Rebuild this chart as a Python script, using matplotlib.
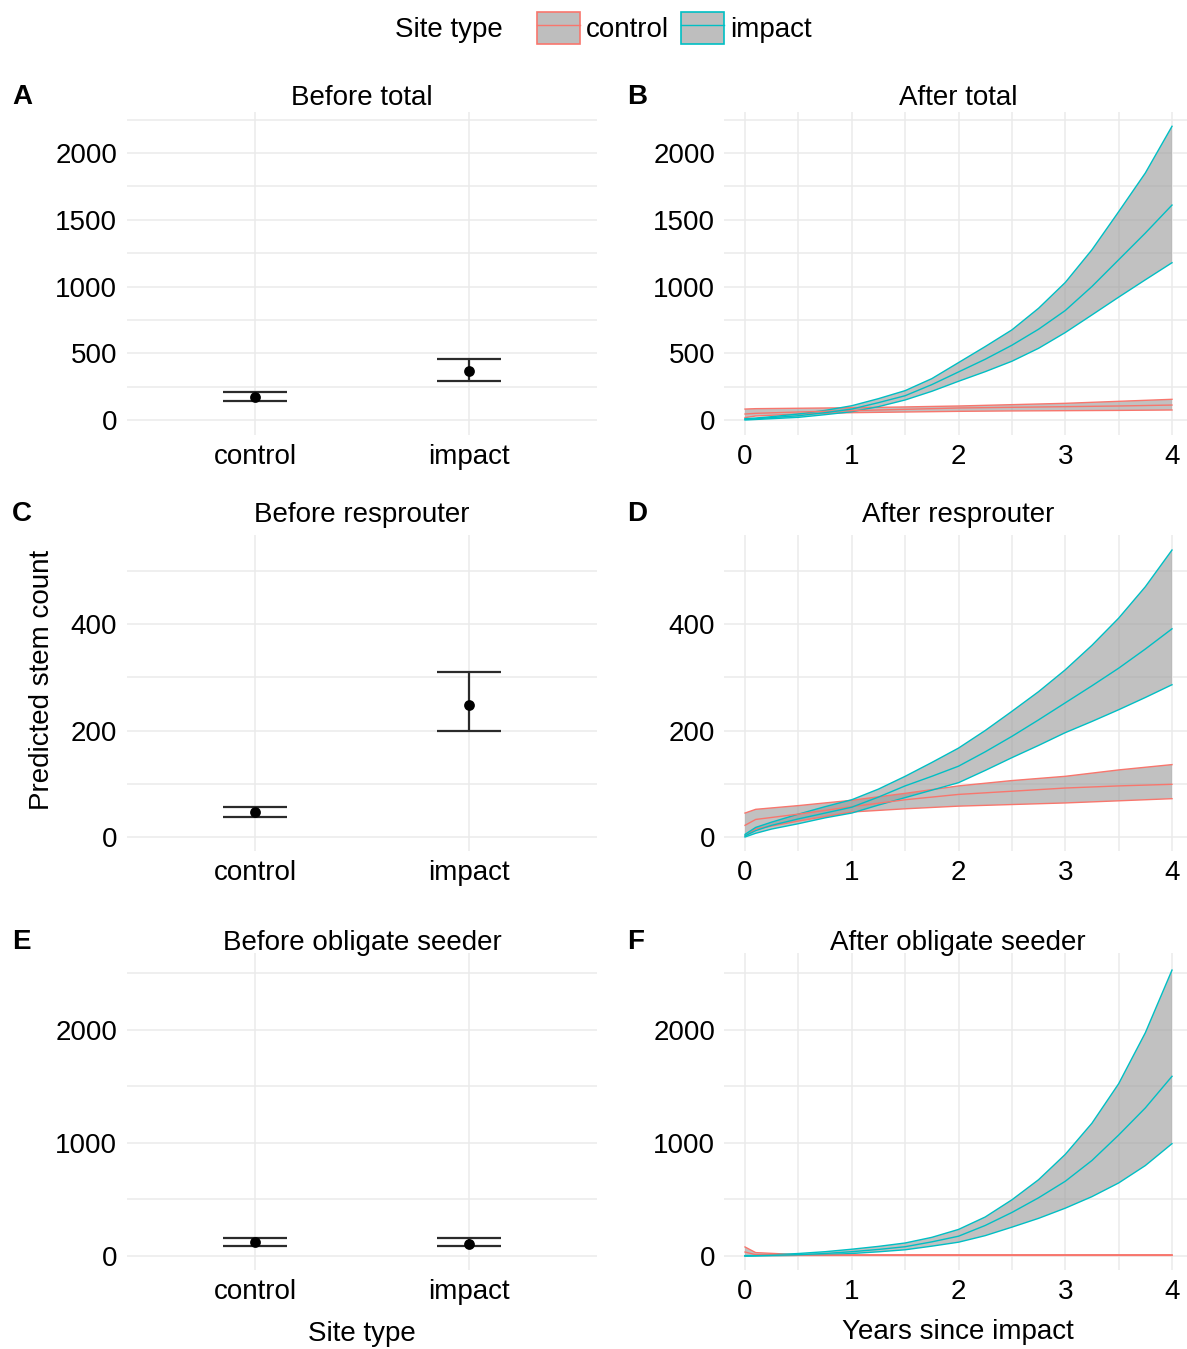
import matplotlib
matplotlib.use("Agg")
import matplotlib.pyplot as plt
from matplotlib.patches import Patch
from matplotlib.lines import Line2D
from matplotlib.legend_handler import HandlerTuple
import numpy as np

plt.rcParams['font.family'] = ['Liberation Sans', 'DejaVu Sans']

# ---------------- data ----------------
site_types = ["control", "impact"]
years_ctrl = [0, 0.1, 0.5, 1, 1.5, 2, 2.5, 3, 3.5, 4]
years_imp = [0, 0.1, 0.25, 0.5, 0.75, 1, 1.25, 1.5, 1.75, 2, 2.25, 2.5, 2.75, 3, 3.25, 3.5, 3.75, 4]

# Before panels: mean, lower, upper per site type
before_total_mean = [170, 364]
before_total_low = [140, 293]
before_total_high = [210, 458]

before_resp_mean = [47, 248]
before_resp_low = [37, 200]
before_resp_high = [57, 310]

before_seed_mean = [121, 107]
before_seed_low = [86, 86]
before_seed_high = [163, 163]

# After total
after_total_ctrl_mean = [45, 50, 60, 70, 80, 90, 95, 100, 105, 112]
after_total_ctrl_low = [18, 30, 45, 55, 60, 65, 68, 70, 72, 75]
after_total_ctrl_high = [82, 85, 88, 92, 98, 105, 115, 125, 140, 155]
after_total_imp_mean = [5, 9, 18, 32, 55, 82, 130, 182, 265, 360, 455, 560, 680, 820, 1000, 1200, 1400, 1610]
after_total_imp_low = [0, 4, 10, 20, 40, 62, 100, 150, 215, 290, 362, 440, 537, 655, 787, 920, 1050, 1178]
after_total_imp_high = [10, 15, 25, 45, 72, 107, 160, 220, 310, 430, 550, 675, 837, 1030, 1275, 1560, 1850, 2200]

# After resprouter
after_resp_ctrl_mean = [22, 33, 43, 57, 70, 80, 86, 92, 96, 99]
after_resp_ctrl_low = [2, 15, 30, 47, 53, 58, 61, 64, 68, 72]
after_resp_ctrl_high = [45, 52, 59, 69, 82, 96, 106, 114, 126, 136]
after_resp_imp_mean = [2, 12, 22, 34, 45, 56, 75, 96, 114, 133, 160, 189, 220, 252, 284, 317, 353, 391]
after_resp_imp_low = [0, 7, 15, 25, 36, 45, 60, 74, 88, 102, 125, 149, 172, 196, 217, 239, 262, 286]
after_resp_imp_high = [5, 18, 28, 43, 57, 70, 90, 114, 140, 167, 200, 236, 273, 314, 360, 411, 470, 539]

# After obligate seeder
after_seed_ctrl_mean = [35, 12, 8, 8, 8, 8, 8, 8, 8, 8]
after_seed_ctrl_low = [0, 3, 4, 5, 5, 5, 5, 5, 5, 5]
after_seed_ctrl_high = [80, 30, 12, 10, 10, 10, 10, 10, 10, 10]
after_seed_imp_mean = [1, 3, 6, 12, 22, 38, 58, 82, 125, 175, 270, 385, 515, 661, 845, 1070, 1310, 1590]
after_seed_imp_low = [0, 1, 3, 6, 12, 22, 37, 55, 87, 122, 180, 255, 333, 423, 525, 646, 800, 994]
after_seed_imp_high = [3, 5, 10, 22, 38, 60, 85, 115, 165, 235, 345, 497, 675, 899, 1175, 1524, 1975, 2530]

titles = ["Before total", "After total", "Before resprouter", "After resprouter",
          "Before obligate seeder", "After obligate seeder"]
tags = ["A", "B", "C", "D", "E", "F"]

# ---------------- style ----------------
COL = {"control": "#F8766D", "impact": "#00BFC4"}
GRID = "#EBEBEB"
FS = 20
W, H = 1187, 1349
fig = plt.figure(figsize=(W / 100, H / 100), dpi=100)


def add_ax(left, top, right, bottom):
    return fig.add_axes([left / W, 1 - bottom / H, (right - left) / W, (bottom - top) / H])


rows = [(111.6, 434.7, (-110, 2310), [0, 500, 1000, 1500, 2000], [250, 750, 1250, 1750, 2250]),
        (535.1, 851.4, (-27, 567), [0, 200, 400], [100, 300, 500]),
        (953.4, 1270.4, (-127.5, 2677.5), [0, 1000, 2000], [500, 1500, 2500])]
title_base = [105, 522, 950]

before_data = [(before_total_mean, before_total_low, before_total_high),
               (before_resp_mean, before_resp_low, before_resp_high),
               (before_seed_mean, before_seed_low, before_seed_high)]
after_data = [
    {"control": (after_total_ctrl_mean, after_total_ctrl_low, after_total_ctrl_high),
     "impact": (after_total_imp_mean, after_total_imp_low, after_total_imp_high)},
    {"control": (after_resp_ctrl_mean, after_resp_ctrl_low, after_resp_ctrl_high),
     "impact": (after_resp_imp_mean, after_resp_imp_low, after_resp_imp_high)},
    {"control": (after_seed_ctrl_mean, after_seed_ctrl_low, after_seed_ctrl_high),
     "impact": (after_seed_imp_mean, after_seed_imp_low, after_seed_imp_high)},
]
year_of = {"control": years_ctrl, "impact": years_imp}


def style(ax, ylim, yticks, yminor, pad_y):
    for s in ax.spines.values():
        s.set_visible(False)
    ax.set_ylim(*ylim)
    ax.set_yticks(yticks)
    ax.set_yticks(yminor, minor=True)
    ax.set_yticklabels([str(t) for t in yticks])
    ax.tick_params(axis="both", which="both", length=0, labelsize=FS, colors="black")
    ax.tick_params(axis="y", pad=pad_y)
    ax.tick_params(axis="x", pad=6.5)
    ax.yaxis.grid(True, which="both", color=GRID, lw=1.1)
    ax.set_axisbelow(True)


for r, (top, bottom, ylim, yticks, yminor) in enumerate(rows):
    # ---- Before panel (categorical) ----
    ax = add_ax(127, top, 597, bottom)
    style(ax, ylim, yticks, yminor, 7)
    xs = np.arange(1, len(site_types) + 1)
    ax.set_xlim(0.4, 2.6)
    ax.set_xticks(xs)
    ax.set_xticklabels(site_types)
    ax.xaxis.grid(True, which="major", color=GRID, lw=1.1)
    m, lo, hi = before_data[r]
    ax.vlines(xs, lo, hi, color="#2b2b2b", lw=1.6, zorder=3)
    ax.hlines(lo, xs - 0.15, xs + 0.15, color="#2b2b2b", lw=1.6, zorder=3)
    ax.hlines(hi, xs - 0.15, xs + 0.15, color="#2b2b2b", lw=1.6, zorder=3)
    ax.scatter(xs, m, s=60, color="black", zorder=4, linewidths=0)
    fig.text(362 / W, 1 - title_base[r] / H, titles[2 * r], ha="center", va="baseline", fontsize=FS)
    fig.text(12 / W, 1 - (title_base[r] - 1) / H, tags[2 * r], ha="left", va="baseline",
             fontsize=FS, fontweight="bold")

    # ---- After panel (continuous) ----
    ax = add_ax(723.65, top, 1193.35, bottom)
    style(ax, ylim, yticks, yminor, 6)
    ax.set_xlim(-0.2, 4.2)
    ax.set_xticks([0, 1, 2, 3, 4])
    ax.set_xticks([0.5, 1.5, 2.5, 3.5], minor=True)
    ax.set_xticklabels(["0", "1", "2", "3", "4"])
    ax.xaxis.grid(True, which="both", color=GRID, lw=1.1)
    d = after_data[r]
    for st in site_types:
        mm, lo, hi = d[st]
        yr = year_of[st]
        ax.fill_between(yr, lo, hi, facecolor="#999999", alpha=0.6, lw=0, zorder=2)
        ax.plot(yr, lo, color=COL[st], lw=1.0, zorder=3)
        ax.plot(yr, hi, color=COL[st], lw=1.0, zorder=3)
    for st in site_types:
        mm, lo, hi = d[st]
        ax.plot(year_of[st], mm, color=COL[st], lw=1.0, zorder=4)
    fig.text(958 / W, 1 - title_base[r] / H, titles[2 * r + 1], ha="center", va="baseline", fontsize=FS)
    fig.text(627 / W, 1 - (title_base[r] - 1) / H, tags[2 * r + 1], ha="left", va="baseline",
             fontsize=FS, fontweight="bold")

# axis titles
fig.text(42 / W, 1 - 680 / H, "Predicted stem count", rotation=90, ha="center", va="center", fontsize=FS)
fig.text(362 / W, 1 - 1341 / H, "Site type", ha="center", va="baseline", fontsize=FS)
fig.text(958 / W, 1 - 1339 / H, "Years since impact", ha="center", va="baseline", fontsize=FS)

# legend
fig.text(395 / W, 1 - 37 / H, "Site type", ha="left", va="baseline", fontsize=FS)
handles = []
for st in site_types:
    handles.append((Patch(facecolor="#BEBEBE", edgecolor=COL[st], lw=1.2),
                    Line2D([], [], color=COL[st], lw=1.0)))
fig.legend(handles, site_types, handler_map={tuple: HandlerTuple(ndivide=1, pad=0)},
           loc="center left", bbox_to_anchor=(537 / W, 1 - 28 / H), ncol=2, frameon=False,
           fontsize=FS, handlelength=1.55, handleheight=1.35, handletextpad=0.2,
           columnspacing=0.45, borderpad=0, borderaxespad=0)

fig.savefig("out.png", dpi=100)
